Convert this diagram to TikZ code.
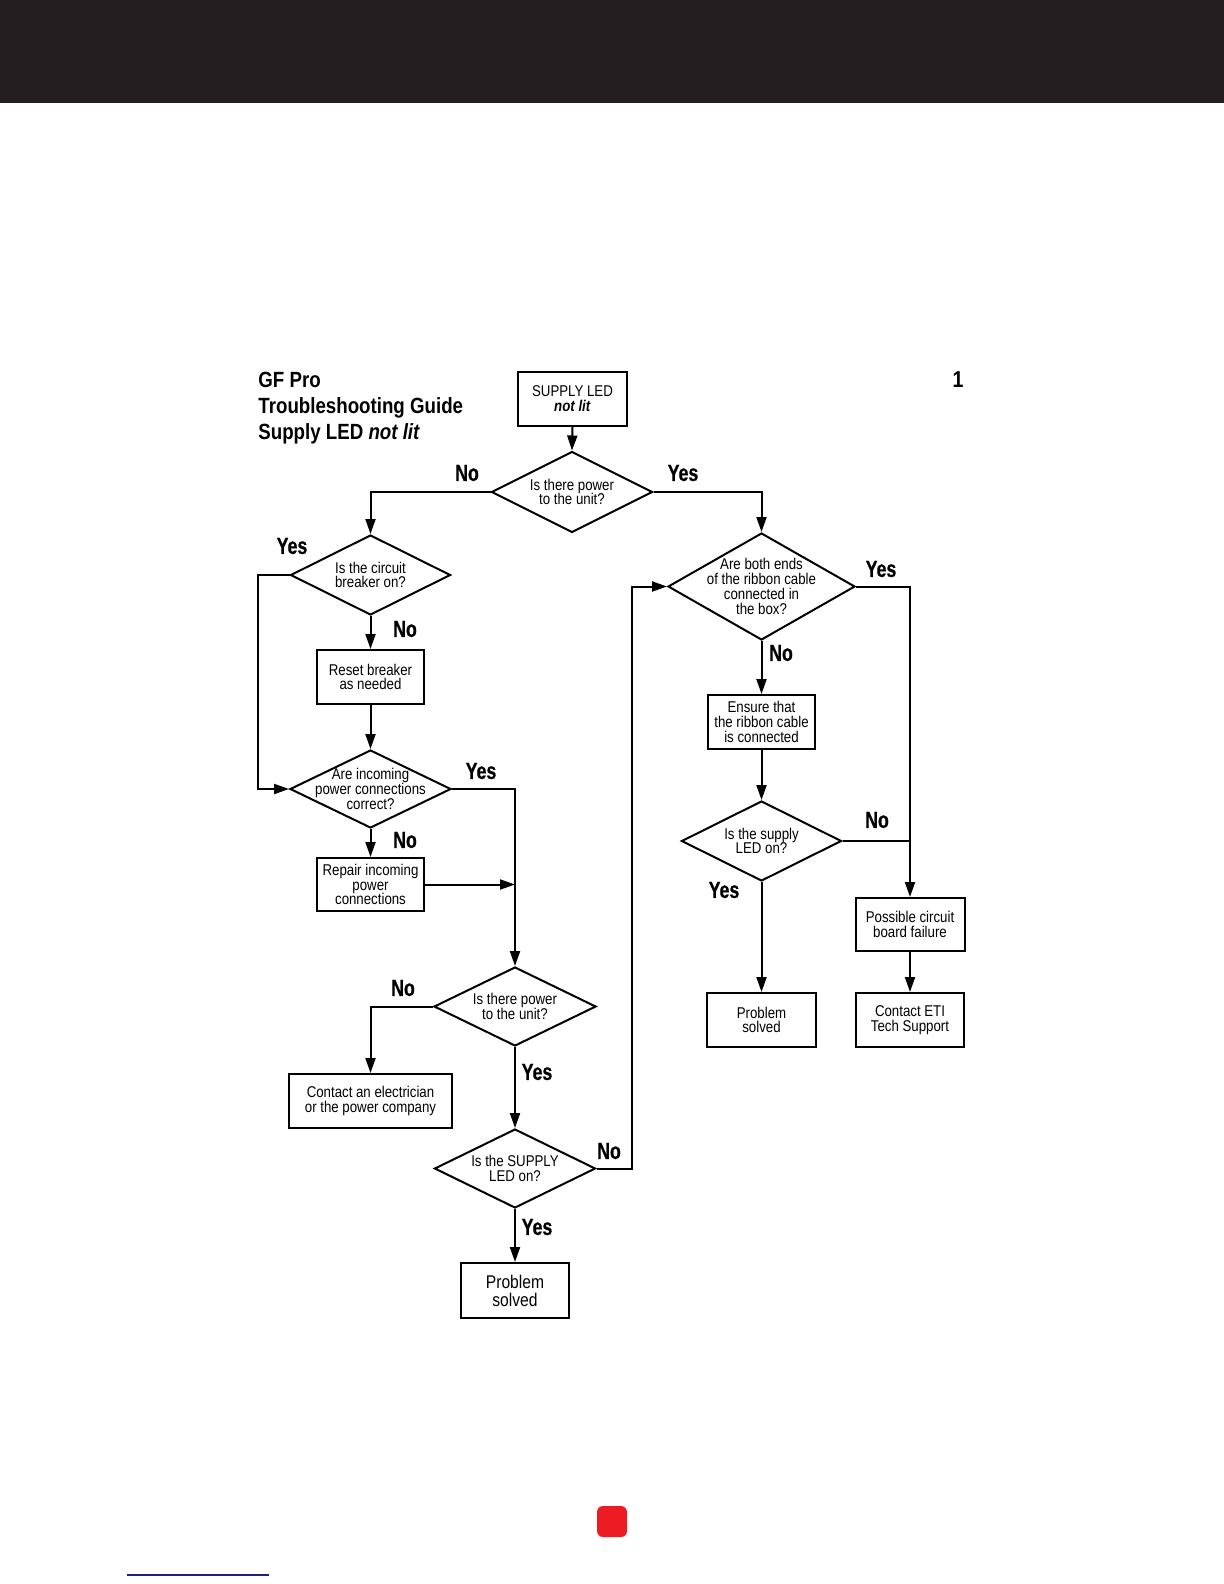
\documentclass[tikz,border=0pt]{standalone}
\usepackage{fontspec}
\setmainfont[FakeStretch=0.85]{Liberation Sans}
\newfontfamily\lblfont[FakeStretch=0.76,BoldFeatures={FakeBold=0.6}]{Liberation Sans}
\usetikzlibrary{shapes.geometric,arrows.meta}
\definecolor{band}{HTML}{231F20}
\definecolor{redsq}{HTML}{ED1C24}
\definecolor{blueln}{HTML}{1C1C8C}
\begin{document}
\begin{tikzpicture}[x=0.5pt,y=-0.5pt,
  box/.style={draw,line width=1pt,rectangle,inner sep=0pt,align=center,font=\fontsize{7.8}{7.4}\selectfont},
  dia/.style={draw,line width=1pt,diamond,inner sep=0pt},
  dtext/.style={align=center,inner sep=0pt,font=\fontsize{7.8}{7.4}\selectfont},
  lbl/.style={inner sep=0pt,font=\lblfont\bfseries\fontsize{11.7}{12}\selectfont},
  ttl/.style={inner sep=0pt,anchor=base west,font=\bfseries\fontsize{11}{13}\selectfont},
  conn/.style={line width=1pt},
  arr/.style={conn,-{Triangle[length=7.5pt,width=5pt]}},
]
\useasboundingbox (0,0) rectangle (1224,1584);
\fill[band] (0,0) rectangle (1224,103);

% title
\node[ttl] (t1) at (258,387) {GF Pro};
\node[ttl] (t2) at (258,413) {Troubleshooting Guide};
\node[ttl] (t3) at (258,439) {Supply LED \textit{not lit}};
\node[inner sep=0pt,anchor=base,font=\bfseries\fontsize{11.5}{13}\selectfont] (pg) at (958,387) {1};

% boxes
\node[box,minimum width=54.5pt,minimum height=27pt] (start) at (572.5,399) {SUPPLY LED\\\textbf{\textit{not lit}}};
\node[box,minimum width=53.5pt,minimum height=27pt] (reset) at (370.5,677) {Reset breaker\\as needed};
\node[box,minimum width=53.5pt,minimum height=26.5pt] (repair) at (370.5,884.5) {Repair incoming\\power\\connections};
\node[box,minimum width=81.5pt,minimum height=27pt] (elec) at (370.5,1101) {Contact an electrician\\or the power company};
\node[box,minimum width=54pt,minimum height=27.5pt,font=\fontsize{9.2}{9}\selectfont] (solved1) at (515,1290.5) {Problem\\solved};
\node[box,minimum width=53.5pt,minimum height=27pt] (ensure) at (761.5,722) {Ensure that\\the ribbon cable\\is connected};
\node[box,minimum width=54.5pt,minimum height=26.5pt] (possible) at (910,924.5) {Possible circuit\\board failure};
\node[box,minimum width=54.5pt,minimum height=27pt] (solved2) at (761.5,1020) {Problem\\solved};
\node[box,minimum width=54pt,minimum height=27pt] (eti) at (910,1020) {Contact ETI\\Tech Support};

% diamonds
\node[dia,minimum width=80.5pt,minimum height=40.5pt] (d1) at (572,492) {};
\node[dtext] at (d1) {Is there power\\to the unit?};
\node[dia,minimum width=80pt,minimum height=40pt] (d2) at (370.5,575) {};
\node[dtext] at (d2) {Is the circuit\\breaker on?};
\node[dia,minimum width=80.5pt,minimum height=39pt] (d3) at (370.5,789) {};
\node[dtext] at (d3) {Are incoming\\power connections\\correct?};
\node[dia,minimum width=81pt,minimum height=39.5pt] (d4) at (515,1006.5) {};
\node[dtext] at (d4) {Is there power\\to the unit?};
\node[dia,minimum width=80.5pt,minimum height=39.5pt] (d5) at (515,1168.5) {};
\node[dtext] at (d5) {Is the SUPPLY\\LED on?};
\node[dia,minimum width=93.5pt,minimum height=53.5pt] (d6) at (761.5,586.5) {};
\node[dtext] at (d6) {Are both ends\\of the ribbon cable\\connected in\\the box?};
\node[dia,minimum width=80pt,minimum height=40pt] (d7) at (761.5,841) {};
\node[dtext] at (d7) {Is the supply\\LED on?};

\coordinate (loopL) at (258,0);
\coordinate (colR) at (632,0);

% connectors
\draw[arr] (start.south) -- (d1.north);
\draw[arr] (d1.west) -| (d2.north);
\draw[arr] (d1.east) -| (d6.north);
\draw[arr] (d2.west) -- (d2.west -| loopL) -- (d3.west -| loopL) -- (d3.west);
\draw[arr] (d2.south) -- (reset.north);
\draw[arr] (reset.south) -- (d3.north);
\draw[arr] (d3.east) -| (d4.north);
\draw[arr] (d3.south) -- (repair.north);
\draw[arr] (repair.east) -- (repair.east -| d4.north);
\draw[arr] (d4.west) -| (elec.north);
\draw[arr] (d4.south) -- (d5.north);
\draw[arr] (d5.south) -- (solved1.north);
\draw[arr] (d5.east) -- (d5.east -| colR) -- (d6.west -| colR) -- (d6.west);
\draw[arr] (d6.south) -- (ensure.north);
\draw[arr] (d6.east) -| (possible.north);
\draw[arr] (ensure.south) -- (d7.north);
\draw[conn] (d7.east) -- (d7.east -| possible.north);
\draw[arr] (d7.south) -- (solved2.north);
\draw[arr] (possible.south) -- (eti.north);

% labels
\node[lbl] (l1) at (467,473) {No};
\node[lbl] (l2) at (683,473) {Yes};
\node[lbl] (l3) at (292,546) {Yes};
\node[lbl] (l4) at (405,629) {No};
\node[lbl] (l5) at (481,771) {Yes};
\node[lbl] (l6) at (405,840) {No};
\node[lbl] (l7) at (403,988) {No};
\node[lbl] (l8) at (537,1072) {Yes};
\node[lbl] (l9) at (609,1151) {No};
\node[lbl] (l10) at (537,1227) {Yes};
\node[lbl] (l11) at (881,569) {Yes};
\node[lbl] (l12) at (781,653) {No};
\node[lbl] (l13) at (877,820) {No};
\node[lbl] (l14) at (724,890) {Yes};

% page decorations
\fill[redsq,rounded corners=3pt] (597,1506) rectangle (627,1537);
\draw[blueln,line width=1pt] (127,1575) -- (269,1575);
\end{tikzpicture}
\end{document}
